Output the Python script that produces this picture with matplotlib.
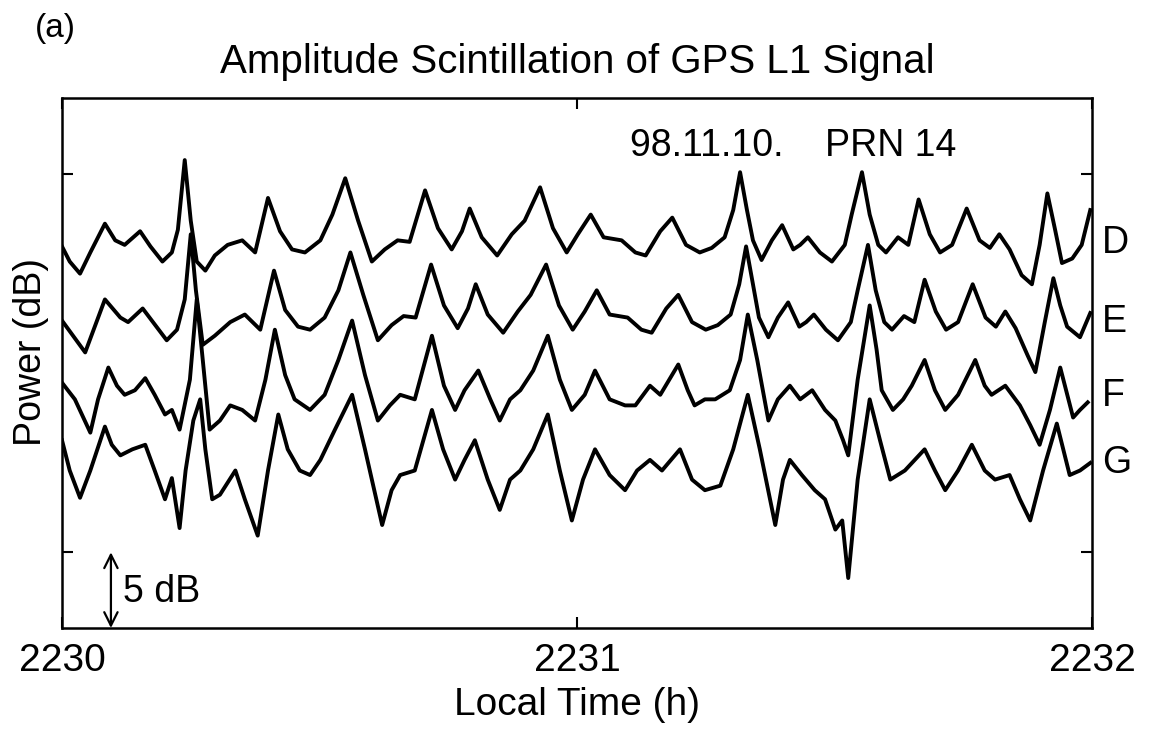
import numpy as np
import matplotlib
matplotlib.use("Agg")
import matplotlib.pyplot as plt

plt.rcParams['font.family'] = ['Liberation Sans', 'DejaVu Sans']

# time in seconds after 22:30:00 ; power in dB (each receiver offset for display)
t_D = [0.0, 0.9, 2.1, 3.3, 5.0, 6.2, 7.3, 9.1, 10.3, 11.7, 12.8, 13.5, 14.3, 15.0, 15.7, 16.7,
       17.8, 19.3, 21.0, 22.5, 24.0, 25.4, 26.8, 28.3, 30.1, 31.5, 33.0, 34.5, 36.1, 37.6, 39.1,
       40.5, 42.3, 43.8, 45.4, 46.6, 47.5, 48.9, 50.7, 52.4, 53.9, 55.7, 57.2, 58.8, 60.1, 61.6,
       63.1, 65.2, 66.8, 68.0, 69.7, 71.1, 72.7, 74.3, 75.7, 77.2, 78.2, 79.0, 79.8, 80.5, 81.5,
       82.7, 83.9, 85.2, 86.0, 86.9, 88.3, 89.7, 91.2, 92.0, 93.2, 94.1, 95.1, 96.0, 97.4, 98.6,
       99.8, 101.1, 102.3, 103.7, 105.4, 106.9, 108.1, 109.2, 110.4, 111.8, 113.0, 113.9, 114.8,
       115.7, 116.5, 117.7, 118.8, 119.8]
p_D = [25.2, 24.2, 23.4, 24.8, 26.7, 25.6, 25.3, 26.2, 25.2, 24.2, 24.8, 26.3, 30.9, 26.9, 24.2, 23.6,
       24.6, 25.3, 25.6, 24.8, 28.4, 26.2, 25.0, 24.8, 25.6, 27.3, 29.7, 26.9, 24.2, 25.0, 25.6,
       25.5, 28.9, 26.4, 25.0, 26.2, 27.7, 25.8, 24.6, 26.0, 26.9, 29.1, 26.4, 24.8, 26.0, 27.3,
       25.8, 25.6, 24.8, 24.6, 26.2, 27.1, 25.3, 24.8, 25.1, 25.8, 27.6, 30.1, 27.6, 25.6, 24.3,
       25.6, 26.6, 25.0, 25.3, 25.8, 24.8, 24.2, 25.3, 27.3, 30.1, 27.3, 25.3, 24.8, 25.8, 25.3,
       28.3, 26.0, 24.8, 25.3, 27.7, 25.6, 25.1, 26.0, 25.0, 23.3, 22.7, 25.3, 28.7,
       26.3, 24.1, 24.4, 25.3, 27.6]

t_E = [0.0, 2.7, 5.0, 6.8, 7.7, 9.4, 10.6, 12.2, 13.4, 14.3, 15.0, 15.6, 16.4, 17.8, 19.6, 21.3,
       23.1, 24.7, 26.0, 27.5, 28.9, 30.6, 32.2, 33.6, 35.1, 36.8, 38.4, 39.8, 41.2, 43.0, 44.5,
       46.1, 47.3, 48.2, 49.6, 51.4, 53.1, 54.6, 56.4, 57.9, 59.5, 60.9, 62.3, 63.8, 65.9, 67.5,
       68.7, 70.4, 71.8, 73.4, 75.0, 76.4, 77.9, 78.9, 79.7, 80.5, 81.2, 82.3, 83.4, 84.6, 85.9,
       86.7, 87.6, 89.0, 90.4, 91.9, 92.7, 93.9, 94.8, 95.8, 96.7, 98.1, 99.3, 100.5, 101.8, 103.0,
       104.4, 106.1, 107.6, 108.8, 109.9, 111.1, 112.5, 113.4, 114.5, 115.5, 116.3, 117.1, 118.6,
       119.8]
p_E = [20.3, 18.2, 21.7, 20.5, 20.2, 21.1, 20.2, 19.0, 19.7, 21.7, 26.0, 22.3, 18.7, 19.3, 20.2, 20.7,
       19.7, 23.6, 21.0, 19.9, 19.7, 20.5, 22.3, 24.8, 22.0, 19.0, 20.0, 20.6, 20.5, 24.0, 21.3,
       19.8, 21.1, 22.7, 20.7, 19.5, 20.9, 22.0, 24.0, 21.3, 19.7, 20.9, 22.3, 20.7, 20.5, 19.7,
       19.5, 21.1, 22.0, 20.2, 19.7, 20.0, 20.7, 22.7, 25.2, 22.7, 20.5, 19.2, 20.5, 21.5, 19.9,
       20.2, 20.7, 19.7, 19.0, 20.2, 22.3, 25.3, 22.3, 20.2, 19.7, 20.6, 20.2, 23.0, 20.9, 19.7,
       20.2, 22.7, 20.5, 19.9, 20.9, 19.8, 18.0, 16.9, 20.2, 23.1, 21.3, 19.9, 19.2,
       20.8]

t_F = [0.0, 1.5, 3.3, 4.2, 5.4, 6.4, 7.3, 8.5, 9.7, 10.8, 12.0, 12.8, 13.7, 14.9, 15.7, 16.4,
       17.2, 18.4, 19.6, 21.0, 22.5, 23.7, 24.8, 26.0, 27.1, 28.9, 30.6, 32.2, 33.8, 35.3, 36.8,
       38.2, 39.4, 41.1, 43.1, 44.5, 45.8, 46.9, 48.5, 49.9, 51.0, 52.2, 53.4, 54.9, 56.6, 58.0,
       59.4, 60.9, 62.1, 63.8, 65.6, 66.8, 68.5, 69.7, 71.8, 72.9, 73.7, 74.9, 76.1, 77.8, 79.0,
       79.9, 81.0, 82.3, 83.4, 84.8, 86.0, 87.4, 88.9, 90.1, 91.0, 91.6, 92.7, 94.1, 94.9, 95.5,
       96.8, 98.0, 99.0, 100.5, 101.7, 102.9, 104.4, 106.4, 107.5, 108.3, 109.9, 111.6, 112.8,
       113.9, 115.1, 116.3, 117.8, 118.6, 119.5]
p_F = [16.2, 15.1, 12.9, 15.1, 17.2, 16.0, 15.4, 15.7, 16.5, 15.4, 14.1, 14.4, 13.1, 16.4, 21.7, 17.7,
       13.1, 13.7, 14.7, 14.4, 13.7, 16.4, 19.7, 16.7, 15.1, 14.4, 15.4, 17.7, 20.3, 16.7, 13.7,
       14.7, 15.4, 15.1, 19.3, 16.0, 14.4, 15.7, 17.0, 15.1, 13.7, 15.1, 15.7, 17.0, 19.3, 16.4,
       14.4, 15.4, 17.0, 15.1, 14.7, 14.7, 16.0, 15.4, 17.4, 15.7, 14.7, 15.1, 15.1, 15.7, 17.7,
       20.7, 17.7, 13.7, 15.1, 16.0, 15.1, 15.7, 14.4, 13.7, 12.4, 11.4, 16.4, 21.3, 18.4, 15.7,
       14.4, 15.1, 16.0, 17.7, 15.7, 14.4, 15.4, 17.7, 16.0, 15.4, 16.0, 14.7, 13.4,
       12.1, 14.4, 17.2, 13.9, 14.4, 14.9]

t_G = [0.0, 0.9, 2.1, 3.3, 5.0, 5.8, 6.8, 8.2, 9.7, 10.8, 12.0, 12.8, 13.7, 14.4, 15.3, 16.1,
       16.7, 17.5, 18.4, 20.2, 21.3, 22.8, 24.0, 25.2, 26.3, 27.7, 28.9, 30.1, 31.8, 33.8, 35.3,
       37.3, 38.4, 39.4, 41.1, 43.1, 44.4, 45.8, 46.9, 48.1, 49.6, 51.0, 52.2, 53.4, 54.9, 56.6,
       58.0, 59.4, 60.7, 62.1, 63.8, 65.6, 67.0, 68.5, 69.9, 72.0, 73.4, 74.9, 76.7, 78.2, 79.9,
       81.3, 83.1, 84.0, 84.8, 86.2, 87.7, 88.9, 90.1, 90.9, 91.6, 92.7, 94.1, 95.3, 96.5, 98.2,
       100.5, 101.7, 102.9, 104.4, 106.0, 107.5, 108.7, 110.4, 111.6, 112.8, 114.3, 115.9, 117.4,
       118.6, 119.8]
p_G = [12.4, 10.4, 8.6, 10.4, 13.3, 12.1, 11.4, 11.8, 12.1, 10.4, 8.5, 9.9, 6.6, 10.4, 13.7, 15.1,
       11.8, 8.5, 8.8, 10.4, 8.5, 6.1, 10.4, 14.1, 11.8, 10.4, 10.1, 11.1, 13.1, 15.4, 11.8,
       6.8, 9.1, 10.1, 10.4, 14.4, 11.8, 9.8, 11.1, 12.4, 9.8, 7.8, 9.8, 10.4, 11.8, 14.1,
       10.4, 7.1, 9.8, 11.8, 10.1, 9.1, 10.4, 11.1, 10.4, 11.8, 9.8, 9.1, 9.4, 11.8, 15.4,
       11.8, 6.8, 9.8, 11.1, 10.1, 9.1, 8.5, 6.5, 7.1, 3.3, 9.8, 15.1, 12.4, 9.8, 10.4,
       11.8, 10.4, 9.1, 10.4, 12.1, 10.4, 9.8, 10.1, 8.5, 7.1, 10.4, 13.5, 10.1,
       10.4, 10.9]

series_names = ['D', 'E', 'F', 'G']
label_y = [25.4, 20.2, 15.3, 10.9]

x_ticks = [2230, 2231, 2232]
y_ticks = [5, 30]


def to_hhmm(sec):
    return 2230 + np.asarray(sec) / 60.0


W, H = 1150, 731
fig = plt.figure(figsize=(W / 100, H / 100), dpi=100)
ax = fig.add_axes([62 / W, (H - 628) / H, 1030 / W, 530 / H])

for t, p in [(t_D, p_D), (t_E, p_E), (t_F, p_F), (t_G, p_G)]:
    ax.plot(to_hhmm(t), p, color='black', lw=2.8, solid_joinstyle='round')

ax.set_xlim(2230, 2232)
ax.set_ylim(0, 35)
ax.set_xticks(x_ticks)
ax.set_xticklabels([str(v) for v in x_ticks])
ax.set_yticks(y_ticks)
ax.set_yticklabels([])
ax.tick_params(direction='in', length=8, width=1.5, top=True, right=True,
               labelsize=28, pad=11, colors='black')
for s in ax.spines.values():
    s.set_linewidth(1.8)

for name, yl in zip(series_names, label_y):
    ax.text(2232.02, yl, name, fontsize=27, ha='left', va='center', clip_on=False)

ax.annotate('', xy=(2230.095, 5.0), xytext=(2230.095, 0.0),
            arrowprops=dict(arrowstyle='<->', color='black', lw=1.6, mutation_scale=24,
                            shrinkA=0, shrinkB=0))
ax.text(2230.118, 2.4, '5 dB', fontsize=27, ha='left', va='center')

ax.text(2231.103, 31.8, '98.11.10.    PRN 14', fontsize=27, ha='left', va='center')

fig.text(577 / W, 1 - 705 / H, 'Local Time (h)', fontsize=28, ha='center', va='center')
fig.text(31 / W, 1 - 352 / H, 'Power (dB)', fontsize=27, ha='center', va='center',
         rotation=90)
fig.text(577 / W, 1 - 62 / H, 'Amplitude Scintillation of GPS L1 Signal',
         fontsize=29, ha='center', va='center')
fig.text(35 / W, 1 - 28 / H, '(a)', fontsize=24, ha='left', va='center')

fig.savefig('out.png', dpi=100, facecolor='white')
